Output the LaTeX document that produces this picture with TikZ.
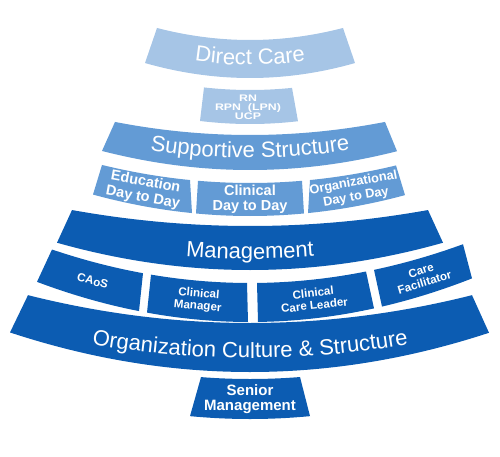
\documentclass[tikz,border=0pt]{standalone}
\usepackage{fontspec}
\setmainfont{Liberation Sans}
\usetikzlibrary{calc,decorations.text}

\definecolor{paleblue}{RGB}{166,197,230}
\definecolor{midblue}{RGB}{99,155,213}
\definecolor{deepblue}{RGB}{12,92,178}

\newcommand\bigfont{\fontsize{22}{22}\selectfont}

% end points and control points of the piece of y = y0 + k (x-250)^2 between xa and xb
\newcommand\curvept[5]{%
  \pgfmathsetmacro\ua{#4-250}%
  \pgfmathsetmacro\ub{#5-250}%
  \pgfmathsetmacro\ya{#2+(#3)*(\ua)*(\ua)}%
  \pgfmathsetmacro\yb{#2+(#3)*(\ub)*(\ub)}%
  \pgfmathsetmacro\yc{#2+(#3)*(\ua)*(\ub)}%
  \pgfmathsetmacro\xc{(#4+#5)/2}%
  \coordinate (#1a) at (#4,\ya);
  \coordinate (#1b) at (#5,\yb);
  \coordinate (#1p) at ($(#1a)!2/3!(\xc,\yc)$);
  \coordinate (#1q) at ($(#1b)!2/3!(\xc,\yc)$);
}

% one block of a tier: name, colour, top left x, top right x, bottom right x, bottom left x
\newcommand\fanbox[6]{%
  \curvept{#1t}{\ytop}{\ktop}{#3}{#4}
  \curvept{#1b}{\ybot}{\kbot}{#6}{#5}
  \fill[#2] (#1ta) .. controls (#1tp) and (#1tq) .. (#1tb) -- (#1bb)
    .. controls (#1bq) and (#1bp) .. (#1ba) -- cycle;
  \pgfmathsetmacro\xm{(#3+#4+#5+#6)/4}%
  \pgfmathsetmacro\um{\xm-250}%
  \pgfmathsetmacro\ym{(\ytop+(\ktop)*(\um)*(\um)+\ybot+(\kbot)*(\um)*(\um))/2}%
  \pgfmathsetmacro\rot{-atan((\ktop+\kbot)*(\um))}%
  \coordinate (#1) at (\xm,\ym);
}

% curved title of a whole tier: name, baseline y0, k, text
\newcommand\bandtext[4]{%
  \curvept{#1}{#2}{#3}{60}{440}
  \path[decorate, decoration={text along path, text align=center, text color=white,
    text={|\bigfont|#4}}] (#1a) .. controls (#1p) and (#1q) .. (#1b);
}

\begin{document}
\begin{tikzpicture}[x=1pt, y=-1pt,
    lab/.style={text=white, align=center, inner sep=0pt, font=\fontsize{14.5}{15.5}\selectfont\bfseries},
    smalllab/.style={lab, font=\fontsize{11.6}{12.5}\selectfont\bfseries},
    tinylab/.style={lab, font=\fontsize{9.5}{9}\selectfont\bfseries\addfontfeature{FakeStretch=1.3}}]
\useasboundingbox (0,0) rectangle (500,457);

% direct care
\def\ytop{40}\def\ktop{-0.00139}\def\ybot{78}\def\kbot{-0.00136}
\fanbox{dc}{paleblue}{157}{343}{355}{145}
\bandtext{dcline}{65}{-0.00137}{Direct Care}

\def\ytop{90}\def\ktop{-0.0012}\def\ybot{124}\def\kbot{-0.0012}
\fanbox{rn}{paleblue}{204}{292}{298}{200}
\node[tinylab] (rn-t) at (248,107.5) {RN\\RPN~~(LPN)\\UCP};

% supportive structure
\def\ytop{135}\def\ktop{-0.00071}\def\ybot{170}\def\kbot{-0.00087}
\fanbox{sup}{midblue}{115}{385}{397}{102}
\bandtext{supline}{158}{-0.00079}{Supportive Structure}

\def\ytop{183}\def\ktop{-0.00082}\def\ybot{216}\def\kbot{-0.00087}
\fanbox{edu}{midblue}{102}{190}{192}{93}
\node[lab, rotate=\rot] (edu-t) at (edu) {Education\\Day to Day};
\fanbox{cli}{midblue}{198}{302}{304}{196}
\node[lab, rotate=\rot] (cli-t) at (cli) {Clinical\\Day to Day};
\fanbox{orgd}{midblue}{310}{396}{405}{308}
\node[lab, font=\fontsize{12.8}{14.5}\selectfont\bfseries, rotate=\rot] (orgd-t) at (orgd) {Organizational\\Day to Day};

% management
\def\ytop{226}\def\ktop{-0.00051}\def\ybot{270}\def\kbot{-0.00074}
\fanbox{man}{deepblue}{72}{428}{443}{57}
\bandtext{manline}{259}{-0.00062}{Management}

\def\ytop{283}\def\ktop{-0.00085}\def\ybot{322}\def\kbot{-0.00089}
\fanbox{caos}{deepblue}{52}{143}{139}{37}
\node[smalllab, rotate=\rot] (caos-t) at (caos) {CAoS};
\fanbox{clm}{deepblue}{151}{247}{248}{147}
\node[smalllab, rotate=\rot] (clm-t) at (clm) {Clinical\\Manager};
\fanbox{ccl}{deepblue}{257}{366}{374}{258}
\node[smalllab, rotate=\rot] (ccl-t) at (ccl) {Clinical\\Care Leader};
\fanbox{cf}{deepblue}{374}{463}{472}{382}
\node[smalllab, rotate=\rot] (cf-t) at (cf) {Care\\Facilitator};

% organization
\def\ytop{323}\def\ktop{-0.00057}\def\ybot{372}\def\kbot{-0.00069}
\fanbox{ocs}{deepblue}{28}{472}{489}{10}
\bandtext{ocsline}{358}{-0.00055}{Organization Culture {\&} Structure}

\def\ytop{379}\def\ktop{-0.0008}\def\ybot{419}\def\kbot{-0.0008}
\fanbox{sen}{deepblue}{201}{300}{310}{190}
\node[lab, font=\fontsize{15}{15}\selectfont\bfseries] (sen-t) at (250,399) {Senior\\Management};
\end{tikzpicture}
\end{document}
